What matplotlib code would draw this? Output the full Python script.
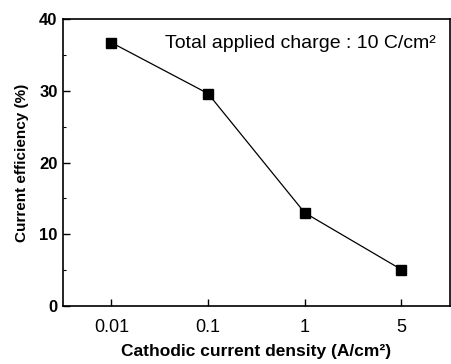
import matplotlib
matplotlib.use("Agg")
import matplotlib.pyplot as plt
from matplotlib.ticker import MultipleLocator

plt.rcParams['font.family'] = ['Liberation Sans', 'DejaVu Sans']

# data
density_labels = ['0.01', '0.1', '1', '5']
efficiency = [36.7, 29.6, 13.0, 5.1]

fig = plt.figure(figsize=(4.51, 3.64), dpi=100)
ax = fig.add_axes([0.140, 0.159, 0.857, 0.789])

x = list(range(len(density_labels)))
ax.plot(x, efficiency, color='black', lw=0.9, marker='s', ms=7.5,
        markerfacecolor='black', markeredgecolor='black')

ax.set_xlim(-0.5, 3.5)
ax.set_ylim(0, 40)
ax.set_xticks(x)
ax.set_xticklabels(density_labels, fontsize=13)
ax.yaxis.set_major_locator(MultipleLocator(10))
ax.yaxis.set_minor_locator(MultipleLocator(5))
for lab in ax.get_yticklabels():
    lab.set_fontweight('bold')
    lab.set_fontsize(12)

ax.tick_params(which='both', direction='in', top=False, right=False)
ax.tick_params(which='major', length=5, width=1)
ax.tick_params(which='minor', length=2.5, width=0.8)
ax.tick_params(axis='x', pad=9)
ax.tick_params(axis='y', pad=4)
for s in ax.spines.values():
    s.set_linewidth(1.2)

ax.set_xlabel('Cathodic current density (A/cm²)', fontsize=12.5,
              fontweight='bold', labelpad=6)
ax.set_ylabel('Current efficiency (%)', fontsize=11,
              fontweight='bold', labelpad=7)

ax.text(0.965, 0.915, 'Total applied charge : 10 C/cm²', transform=ax.transAxes,
        ha='right', va='center', fontsize=14)

fig.savefig('out.png', dpi=100)
